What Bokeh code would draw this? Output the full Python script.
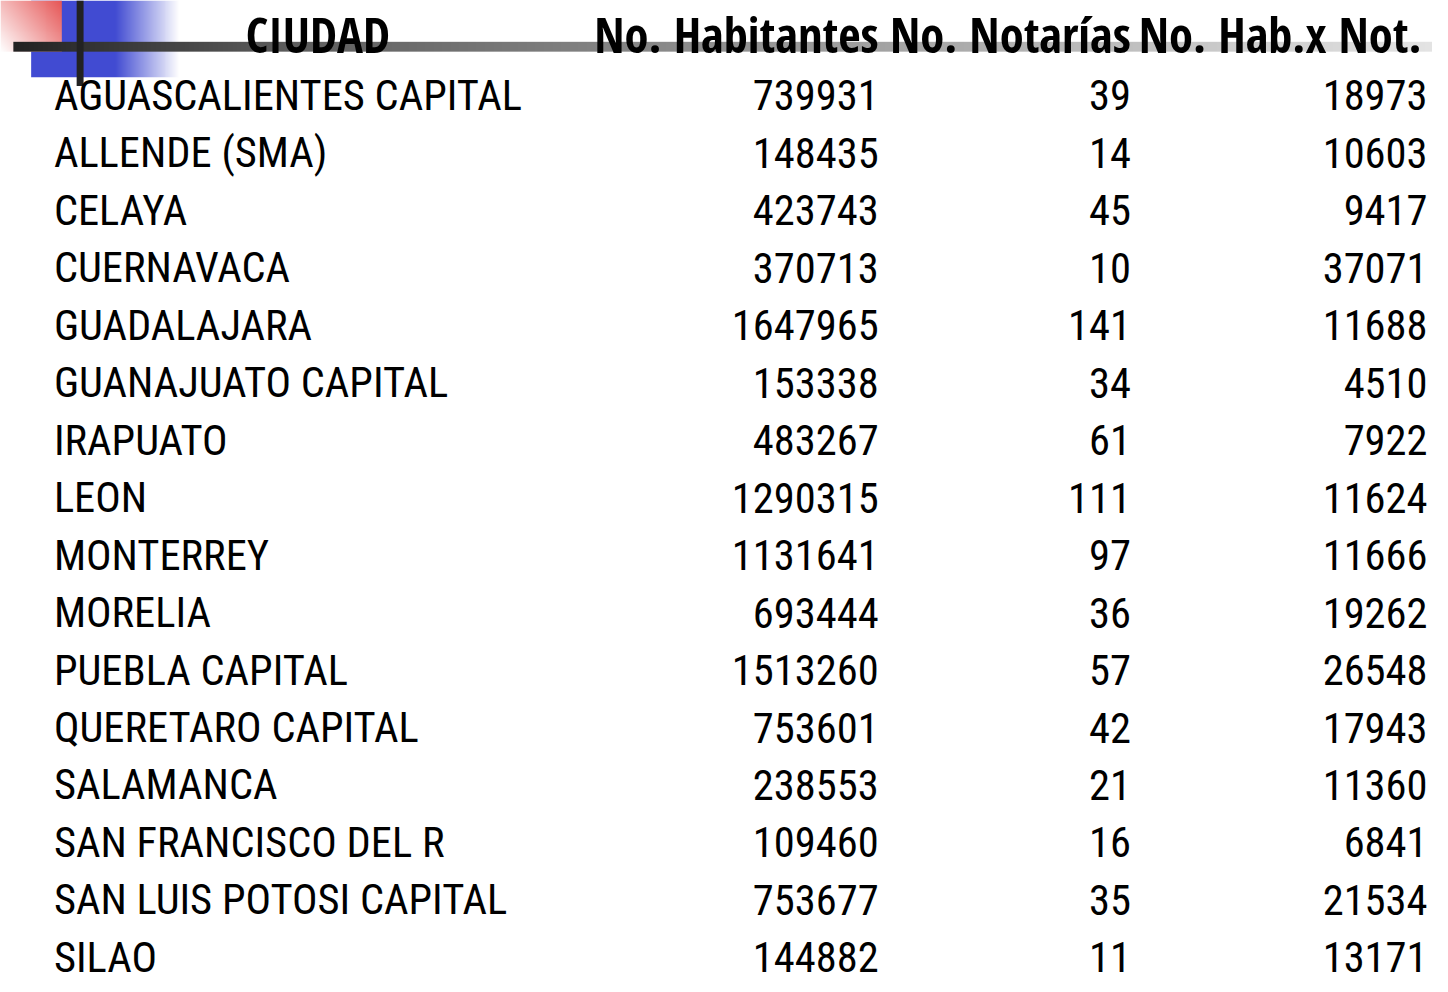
import numpy as np
from bokeh.plotting import figure
from bokeh.models import Range1d
from bokeh.core.properties import value
from bokeh.embed import file_html
from bokeh.resources import INLINE

# ---- data ----
headers = ["CIUDAD", "No. Habitantes", "No. Notarías", "No. Hab.x Not."]
cities = ["AGUASCALIENTES CAPITAL", "ALLENDE (SMA)", "CELAYA", "CUERNAVACA",
          "GUADALAJARA", "GUANAJUATO CAPITAL", "IRAPUATO", "LEON", "MONTERREY",
          "MORELIA", "PUEBLA CAPITAL", "QUERETARO CAPITAL", "SALAMANCA",
          "SAN FRANCISCO DEL R", "SAN LUIS POTOSI CAPITAL", "SILAO"]
habitantes = [739931, 148435, 423743, 370713, 1647965, 153338, 483267, 1290315,
              1131641, 693444, 1513260, 753601, 238553, 109460, 753677, 144882]
notarias = [39, 14, 45, 10, 141, 34, 61, 111, 97, 36, 57, 42, 21, 16, 35, 11]
hab_x_not = [18973, 10603, 9417, 37071, 11688, 4510, 7922, 11624, 11666, 19262,
             26548, 17943, 11360, 6841, 21534, 13171]

# ---- layout ----
W_REF, H_REF = 1448, 992
FIG_W, FIG_H = 1432, 976
S = FIG_W / W_REF
ROW_FONT = "Roboto Condensed"
HDR_FONT = "Open Sans Condensed"
HDR_PX = 49 * S
ROW_PX = 43 * S
ROW_SHIFT = 0.36   # renderer places the alphabetic baseline a bit low
HDR_SHIFT = 0.36

p = figure(width=FIG_W, height=FIG_H, output_backend="svg", toolbar_location=None,
           x_range=Range1d(0, W_REF), y_range=Range1d(H_REF, 0), min_border=0)
p.axis.visible = False
p.grid.visible = False
p.outline_line_color = None
p.background_fill_color = "white"
p.border_fill_color = "white"


def rgba(r, g, b):
    r = np.asarray(r).astype(np.uint32)
    g = np.asarray(g).astype(np.uint32)
    b = np.asarray(b).astype(np.uint32)
    a = np.full(r.shape, 255, dtype=np.uint32)
    return (a << 24) | (b << 16) | (g << 8) | r


# blue block with horizontal fade
bw, bh = 149, 78
xx = np.arange(bw)[None, :].repeat(bh, 0).astype(float)
fade = np.clip((xx - 84) / 65.0, 0, 1)
p.image_rgba(image=[rgba(65 + 190 * fade, 75 + 180 * fade, 210 + 45 * fade)],
             x=31, y=0, dw=bw, dh=bh)

# red square with diagonal fade
rw, rh = 62, 52
rx = np.arange(rw)[None, :].repeat(rh, 0).astype(float)
ry = np.arange(rh)[:, None].repeat(rw, 1).astype(float)
t = np.clip(0.6 * rx / rw + 0.4 * (1 - ry / rh), 0, 1)
p.image_rgba(image=[rgba(255 - t * 25, 255 - t * 170, 255 - t * 170)],
             x=0, y=0, dw=rw, dh=rh)

# horizontal gray bar with gradient
hw, hh = W_REF - 13, 10
gx = np.arange(hw).astype(float) + 13
gv = np.interp(gx, [13, 300, 600, 1000, 1448], [35, 95, 130, 175, 228])
gv = gv[None, :].repeat(hh, 0)
p.image_rgba(image=[rgba(gv, gv, gv)], x=13, y=42, dw=hw, dh=hh)

# vertical dark line
p.quad(left=[77], right=[84], top=[0], bottom=[87], fill_color="#222222", line_color=None)

# ---- header ----
hdr_base = 52 - HDR_SHIFT * HDR_PX / S
hdr = dict(text_font=value(HDR_FONT), text_font_style="bold", text_font_size=f"{HDR_PX:.1f}px",
           text_baseline="alphabetic", text_color="black")
p.text(x=[321], y=[hdr_base], text=[headers[0]], text_align="center", **hdr)
p.text(x=[888, 1143, 1437], y=[hdr_base] * 3, text=headers[1:], text_align="right", **hdr)

# ---- rows ----
shift = ROW_SHIFT * ROW_PX / S
row_y = [112 + 58.4 * i - shift for i in range(len(cities))]
common = dict(text_font=value(ROW_FONT), text_font_size=f"{ROW_PX:.1f}px",
              text_baseline="alphabetic", text_color="black")
p.text(x=[54] * len(cities), y=row_y, text=cities, text_align="left", **common)
p.text(x=[888] * len(cities), y=row_y, text=[str(v) for v in habitantes], text_align="right", **common)
p.text(x=[1143] * len(cities), y=row_y, text=[str(v) for v in notarias], text_align="right", **common)
p.text(x=[1443] * len(cities), y=row_y, text=[str(v) for v in hab_x_not], text_align="right", **common)

open("out.html", "w").write(file_html(p, INLINE))
